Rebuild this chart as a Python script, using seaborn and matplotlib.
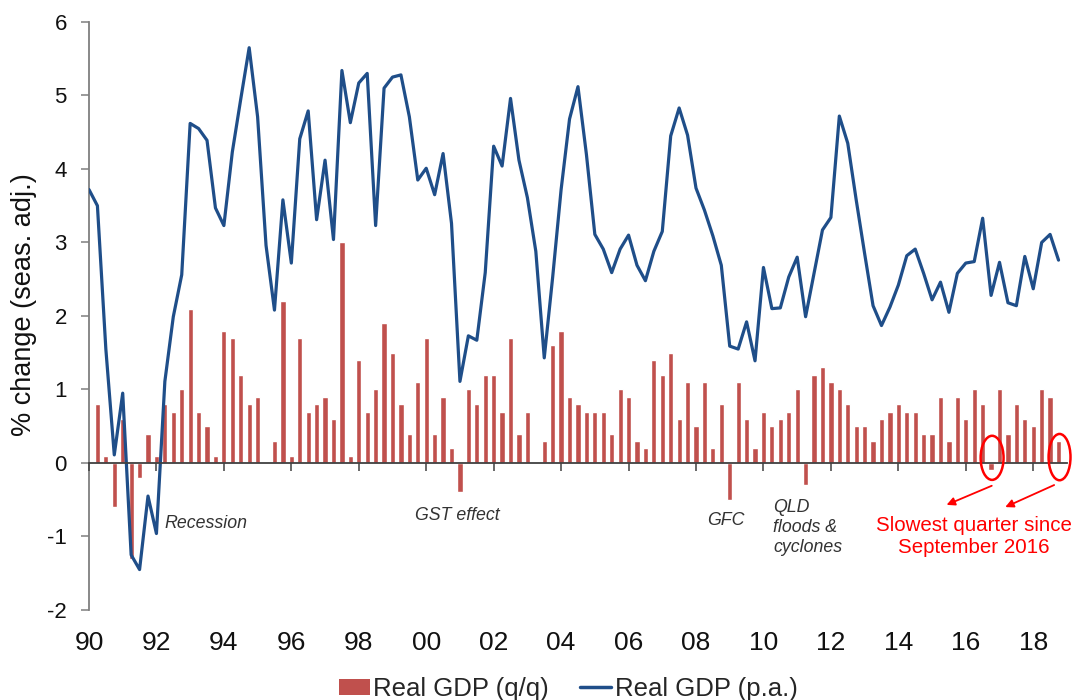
import matplotlib
matplotlib.use("Agg")
import matplotlib.pyplot as plt
from matplotlib.patches import Ellipse, Patch
from matplotlib.lines import Line2D
import numpy as np
import pandas as pd
import seaborn as sns

# ---- data -------------------------------------------------------------
# quarterly real GDP growth, % q/q, 1990 Q1 .. 2018 Q3 (plotted at quarter end)
qq_start = 1990.25
qq = [0.8, 0.1, -0.6, 0.6, -1.3, -0.2, 0.4, 0.1, 0.8, 0.7, 1.0, 2.1, 0.7, 0.5,
      0.1, 1.8, 1.7, 1.2, 0.8, 0.9, 0.0, 0.3, 2.2, 0.1, 1.7, 0.7, 0.8, 0.9,
      0.6, 3.0, 0.1, 1.4, 0.7, 1.0,
      1.9, 1.5, 0.8, 0.4, 1.1, 1.7, 0.4, 0.9, 0.2, -0.4, 1.0, 0.8, 1.2, 1.2,
      0.7, 1.7, 0.4, 0.7, 0.0, 0.3, 1.6, 1.8, 0.9, 0.8, 0.7, 0.7, 0.7, 0.4,
      1.0, 0.9, 0.3, 0.2, 1.4,
      1.2, 1.5, 0.6, 1.1, 0.5, 1.1, 0.2, 0.8, -0.5, 1.1, 0.6, 0.2, 0.7, 0.5,
      0.6, 0.7, 1.0, -0.3, 1.2, 1.3, 1.1, 1.0, 0.8, 0.5, 0.5, 0.3, 0.6, 0.7,
      0.8, 0.7, 0.7, 0.4, 0.4, 0.9, 0.3, 0.9, 0.6, 1.0, 0.8, -0.1, 1.0, 0.4,
      0.8, 0.6, 0.5, 1.0, 0.9, 0.3]

# annual real GDP growth, % p.a., 1989 Q4 .. 2018 Q3
pa_start = 1990.0
pa = [3.72, 3.50, 1.55, 0.11, 0.95, -1.25, -1.45, -0.45, -0.96, 1.11,
      1.99, 2.56, 4.62, 4.55, 4.39, 3.47, 3.23, 4.23, 4.95, 5.65,
      4.71, 2.96, 2.08, 3.58, 2.72, 4.41, 4.79, 3.31, 4.12, 3.04,
      5.34, 4.63, 5.17, 5.30, 3.23, 5.10, 5.25, 5.28, 4.71, 3.85,
      4.01, 3.65, 4.21, 3.26, 1.11, 1.73, 1.67, 2.59, 4.31, 4.04,
      4.96, 4.12, 3.61, 2.88, 1.43, 2.53, 3.72, 4.68, 5.12, 4.20,
      3.11, 2.91, 2.59, 2.91, 3.10, 2.69, 2.48, 2.88, 3.15, 4.45,
      4.83, 4.46, 3.74, 3.44, 3.09, 2.69, 1.59, 1.55, 1.92, 1.39,
      2.66, 2.10, 2.11, 2.53, 2.80, 1.99, 2.58, 3.17, 3.34, 4.72,
      4.35, 3.58, 2.85, 2.14, 1.87, 2.12, 2.42, 2.82, 2.91, 2.58,
      2.22, 2.46, 2.05, 2.58, 2.72, 2.74, 3.33, 2.28, 2.73, 2.18,
      2.14, 2.81, 2.37, 3.00, 3.11, 2.76]

tick_years = list(range(1990, 2019, 2))
tick_labels = ["90", "92", "94", "96", "98", "00", "02", "04", "06", "08",
               "10", "12", "14", "16", "18"]
y_ticks = [-2, -1, 0, 1, 2, 3, 4, 5, 6]

series_names = ["Real GDP (q/q)", "Real GDP (p.a.)"]

# ---- styling -----------------------------------------------------------
sns.set_style("white")
plt.rcParams["font.family"] = ["Liberation Sans", "DejaVu Sans"]

BAR_C = "#C0504D"
LINE_C = "#1F4E89"
AX_C = "#7F7F7F"
TXT_C = "#111111"

bar_df = pd.DataFrame({"date": qq_start + 0.25 * np.arange(len(qq)), "qq": qq})
line_df = pd.DataFrame({"date": pa_start + 0.25 * np.arange(len(pa)), "pa": pa})

fig = plt.figure(figsize=(10.76, 7.0), dpi=100)
ax = fig.add_axes([0.0827, 0.1286, 0.9089, 0.84])

sns.barplot(data=bar_df, x="date", y="qq", native_scale=True, width=0.62,
            color=BAR_C, saturation=1, errorbar=None, ax=ax, zorder=2)
sns.lineplot(data=line_df, x="date", y="pa", color=LINE_C, lw=2.3, ax=ax,
             zorder=3)

ax.set_xlim(1990, 2019)
ax.set_ylim(-2, 6)
ax.set_yticks(y_ticks)
ax.set_yticklabels([str(v) for v in y_ticks])
ax.set_xticks(tick_years)
ax.set_xticklabels(tick_labels)
ax.tick_params(axis="x", length=0, pad=15, labelsize=19, labelcolor=TXT_C)
ax.tick_params(axis="y", direction="out", length=6, width=1.1, color=AX_C,
               pad=10, labelsize=16, labelcolor=TXT_C, left=True)
for s in ["top", "right", "bottom"]:
    ax.spines[s].set_visible(False)
ax.spines["left"].set_color(AX_C)
ax.spines["left"].set_linewidth(1.3)
ax.set_xlabel("")
ax.set_ylabel("% change (seas. adj.)", fontsize=19.5, color=TXT_C)
ax.yaxis.set_label_coords(-0.053, 0.52)

# zero line axis with ticks
sec = ax.secondary_xaxis(0.25)
sec.set_xticks(tick_years)
sec.tick_params(axis="x", direction="out", length=6, width=1.1, color="#404040",
                labelbottom=False, labeltop=False)
sec.spines["bottom"].set_color("#404040")
sec.spines["bottom"].set_linewidth(1.3)
sec.set_zorder(4)

# annotations
note_c = "#333333"
ax.text(1992.23, -0.82, "Recession", fontsize=12.8, style="italic",
        color=note_c, ha="left", va="center")
ax.text(1999.67, -0.71, "GST effect", fontsize=12.8, style="italic",
        color=note_c, ha="left", va="center")
ax.text(2008.33, -0.78, "GFC", fontsize=12.8, style="italic",
        color=note_c, ha="left", va="center")
ax.text(2010.29, -0.88, "QLD\nfloods &\ncyclones", fontsize=12.8,
        style="italic", color=note_c, ha="left", va="center", linespacing=1.22)
ax.text(2016.25, -1.0, "Slowest quarter since\nSeptember 2016", fontsize=14.8,
        color="#FF0000", ha="center", va="center", linespacing=1.18)

for cx, cy, w, h in [(2016.78, 0.07, 0.68, 0.6), (2018.78, 0.08, 0.65, 0.63)]:
    ax.add_patch(Ellipse((cx, cy), w, h, fill=False, ec="#FF0000", lw=1.8,
                         zorder=6, clip_on=False))
for (x0, y0), (x1, y1) in [((2016.77, -0.31), (2015.43, -0.57)),
                           ((2018.62, -0.30), (2017.17, -0.60))]:
    ax.annotate("", xy=(x1, y1), xytext=(x0, y0), annotation_clip=False,
                arrowprops=dict(arrowstyle="-|>", color="#FF0000", lw=1.3,
                                mutation_scale=12, shrinkA=0, shrinkB=0))

handles = [Patch(facecolor=BAR_C, edgecolor="none"),
           Line2D([0], [0], color=LINE_C, lw=2.5)]
fig.legend(handles, series_names, loc="center", ncol=2, frameon=False,
           bbox_to_anchor=(0.528, 0.016), fontsize=18.5, handlelength=1.2,
           handleheight=0.6, handletextpad=0.15, columnspacing=1.2)

fig.savefig("out.png", dpi=100)
